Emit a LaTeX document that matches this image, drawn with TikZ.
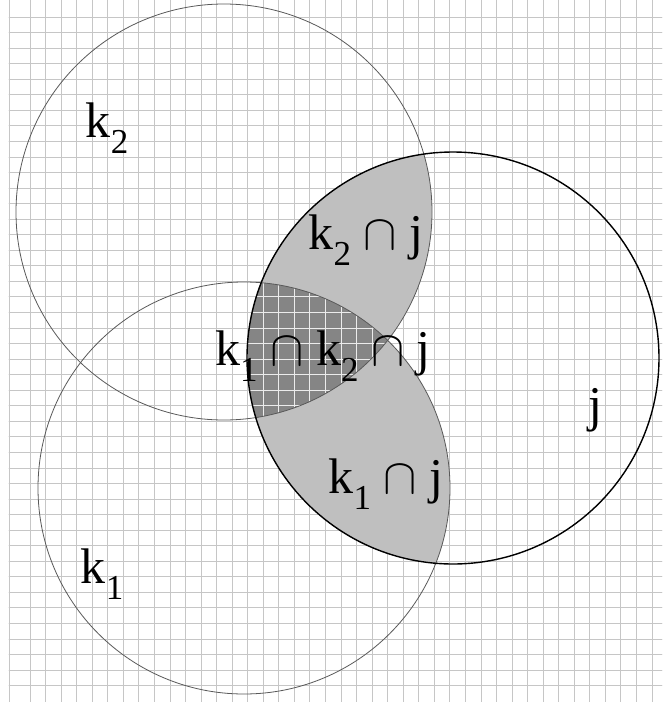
\documentclass[tikz,border=0pt]{standalone}
\usepackage{fix-cm}
\usepackage{fontspec}
\setmainfont{Liberation Serif}
\newcommand{\lowsub}[1]{\raisebox{-.32em}{\fontsize{35}{37}\selectfont #1}}
\begin{document}
\begin{tikzpicture}[x=1pt, y=-1pt, line join=round, line cap=round,
    gridline/.style={gray!45, line width=0.9pt},
    whitegrid/.style={white!85!gray, line width=0.9pt},
    thinring/.style={gray!70!black, line width=0.8pt},
    thickring/.style={black, line width=1.4pt},
    setlabel/.style={font=\fontsize{50}{54}\selectfont, inner sep=0pt}]
  \useasboundingbox (0,0) rectangle (662,702);
  \fill[white] (0,0) rectangle (662,702);
  % squared paper
  \foreach \i in {0,...,40}
    \draw[gridline] ({30+15.55*\i},0) -- ({30+15.55*\i},702);
  \foreach \i in {0,...,43}
    \draw[gridline] (9,{17+15.55*\i}) -- (662,{17+15.55*\i});
  \draw[gridline] (9,0) -- (9,702);
  % centres of the three sets
  \coordinate (ctwo) at (224,212);
  \coordinate (cone) at (244,488);
  \coordinate (cj) at (453,358);
  % pairwise parts inside j
  \begin{scope}
    \clip (cj) circle (206pt);
    \fill[black!25] (cone) circle (206pt);
    \fill[black!25] (ctwo) circle (208pt);
  \end{scope}
  % triple part
  \begin{scope}
    \clip (cj) circle (206pt);
    \clip (cone) circle (206pt);
    \clip (ctwo) circle (208pt);
    \fill[black!48] (ctwo) circle (208pt);
    \foreach \i in {0,...,40}
      \draw[whitegrid] ({30+15.55*\i},0) -- ({30+15.55*\i},702);
    \foreach \i in {0,...,43}
      \draw[whitegrid] (9,{17+15.55*\i}) -- (662,{17+15.55*\i});
  \end{scope}
  % the circles
  \draw[thinring] (ctwo) circle (208pt);
  \draw[thinring] (cone) circle (206pt);
  \draw[thickring] (cj) circle (206pt);
  % labels
  \node[setlabel] (ktwo) at (107,128) {k\lowsub{2}};
  \node[setlabel] (kone) at (102,574) {k\lowsub{1}};
  \node[setlabel] (jset) at (595,410) {j};
  \node[setlabel] (ktwoj) at (366,240) {k\lowsub{2} $\cap$ j};
  \node[setlabel] (konej) at (386,484) {k\lowsub{1} $\cap$ j};
  \node[setlabel] (triple) at (323,356) {k\lowsub{1} $\cap$ k\lowsub{2} $\cap$ j};
\end{tikzpicture}
\end{document}
